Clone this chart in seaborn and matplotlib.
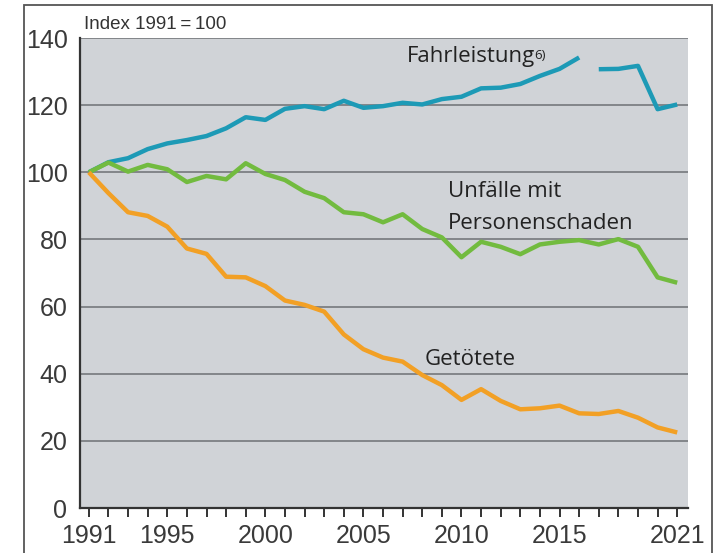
import matplotlib
matplotlib.use("Agg")
import matplotlib.pyplot as plt
import seaborn as sns
import pandas as pd
from matplotlib.patches import Rectangle

# Index values, 1991 = 100
years = list(range(1991, 2022))

fahrleistung = [100.0, 103.0, 104.2, 106.9, 108.6, 109.6, 110.8, 113.1, 116.4, 115.6,
                118.9, 119.7, 118.8, 121.3, 119.2, 119.7, 120.7, 120.2, 121.8, 122.5,
                125.0, 125.2, 126.3, 128.7, 130.8, 134.2, 130.7, 130.8, 131.7, 118.8,
                120.2]
# series break between 2016 and 2017 (new survey method)
fahrleistung_break = 2017

unfaelle = [100.0, 102.9, 100.2, 102.2, 100.9, 97.1, 98.9, 97.9, 102.7, 99.5,
            97.7, 94.2, 92.3, 88.1, 87.5, 85.1, 87.5, 83.1, 80.6, 74.7,
            79.3, 77.8, 75.6, 78.5, 79.3, 79.8, 78.5, 80.1, 77.8, 68.7,
            67.1]

getoetete = [100.0, 93.8, 88.1, 87.0, 83.8, 77.3, 75.7, 68.9, 68.7, 66.1,
             61.8, 60.5, 58.5, 51.7, 47.3, 44.8, 43.6, 39.6, 36.6, 32.2,
             35.4, 31.9, 29.4, 29.7, 30.5, 28.2, 28.0, 28.9, 26.9, 24.0,
             22.5]

y_ticks = [0, 20, 40, 60, 80, 100, 120, 140]
x_tick_labels = [1991, 1995, 2000, 2005, 2010, 2015, 2021]

colors = {
    "Fahrleistung": "#1d9ab6",
    "Unfälle": "#72bb3f",
    "Getötete": "#f2a025",
}

rows = []
for name, vals in [("Fahrleistung", fahrleistung), ("Unfälle", unfaelle), ("Getötete", getoetete)]:
    for yr, v in zip(years, vals):
        seg = name
        if name == "Fahrleistung" and yr >= fahrleistung_break:
            seg = name + "_b"
        rows.append({"year": yr, "value": v, "series": name, "segment": seg})
df = pd.DataFrame(rows)

sns.set_theme(style="white")
plt.rcParams["font.family"] = ["Liberation Sans", "DejaVu Sans"]

fig = plt.figure(figsize=(7.21, 5.53), dpi=100)
ax = fig.add_axes([80 / 721, 45 / 553, 608 / 721, 470 / 553])
ax.set_facecolor("#d0d3d7")

for yv in y_ticks[1:]:
    ax.axhline(yv, color="#7c7f83", lw=1.3, zorder=1)

sns.lineplot(data=df, x="year", y="value", hue="series", units="segment",
             estimator=None, palette=colors, lw=3.2, legend=False, ax=ax,
             zorder=3, solid_capstyle="butt")

ax.set_xlim(1990.55, 2021.55)
ax.set_ylim(0, 140)
ax.set_xlabel("")
ax.set_ylabel("")
ax.set_yticks(y_ticks)
ax.set_xticks(years)
ax.set_xticklabels([str(y) if y in x_tick_labels else "" for y in years])

for side in ["top", "right"]:
    ax.spines[side].set_visible(False)
for side in ["left", "bottom"]:
    ax.spines[side].set_color("#333333")
    ax.spines[side].set_linewidth(1.6)

ax.tick_params(axis="x", direction="out", length=6.5, width=1.4, color="#333333",
               labelsize=18, pad=5, labelcolor="#3a3a3a", bottom=True)
ax.tick_params(axis="y", length=0, labelsize=18, pad=9, labelcolor="#3a3a3a")

# series labels
lab_font = ["Open Sans", "DejaVu Sans"]
t = ax.text(2007.2, 132.9, "Fahrleistung", fontsize=16, family=lab_font,
            color="#222222", va="baseline", ha="left")
ax.annotate("6)", xy=(1.0, 1.0), xycoords=t, xytext=(-0.5, -2.5), textcoords="offset points",
            fontsize=9.5, family=lab_font, color="#222222", va="top", ha="left")
ax.text(2009.3, 92.6, "Unfälle mit", fontsize=16, family=lab_font,
        color="#222222", va="baseline", ha="left")
ax.text(2009.3, 83.1, "Personenschaden", fontsize=16, family=lab_font,
        color="#222222", va="baseline", ha="left")
ax.text(2008.1, 42.6, "Getötete", fontsize=16, family=lab_font,
        color="#222222", va="baseline", ha="left")

fig.text(84 / 721, 1 - 29 / 553, "Index 1991\u2009=\u2009100", fontsize=13.5,
         color="#333333", va="baseline", ha="left")

# outer frame
fig.patches.append(Rectangle((24 / 721, -0.1), (712 - 24) / 721, 1.1 - 5 / 553,
                             transform=fig.transFigure, fill=False,
                             edgecolor="#555555", lw=1.3))

fig.savefig("out.png", dpi=100, facecolor="white")
